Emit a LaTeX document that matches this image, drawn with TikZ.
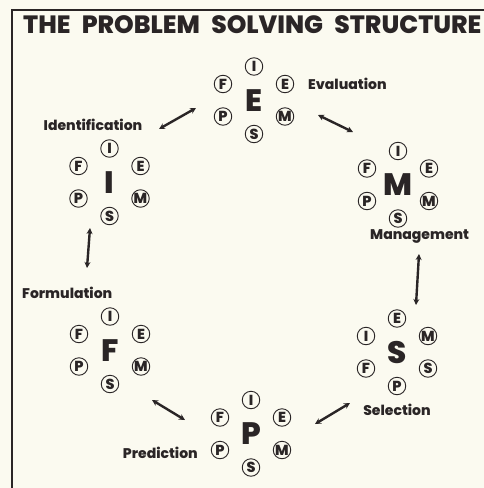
\documentclass[tikz,border=0pt]{standalone}
\usepackage{fontspec}
\IfFontExistsTF{Poppins ExtraBold}
  {\setmainfont{Poppins}[BoldFont={Poppins ExtraBold}]}
  {\setmainfont{Poppins}[BoldFeatures={FakeBold=1.2}]}
\usetikzlibrary{arrows.meta,calc}
\definecolor{paper}{HTML}{FBFAF0}
\definecolor{ink}{HTML}{2A2526}
\newcommand\cluster[9]{%
  \node[big] (#1) at (#2) {#3};
  \node[smallc] (#1-t)  at ($(#1)+(0,-34)$)     {#4};
  \node[smallc] (#1-ul) at ($(#1)+(-31,-16.5)$) {#5};
  \node[smallc] (#1-ur) at ($(#1)+(31,-16.5)$)  {#6};
  \node[smallc] (#1-ll) at ($(#1)+(-31,16)$)    {#7};
  \node[smallc] (#1-lr) at ($(#1)+(31,16)$)     {#8};
  \node[smallc] (#1-b)  at ($(#1)+(0,33.5)$)    {#9};
}
\begin{document}
\begin{tikzpicture}[x=1pt,y=-1pt,
  smallc/.style={circle,draw=ink,line width=0.9pt,minimum size=17.5pt,inner sep=0pt,
    font=\bfseries\fontsize{14.5}{14.5}\selectfont,text=ink},
  big/.style={font=\bfseries\fontsize{31}{31}\selectfont,text=ink,inner sep=0pt},
  lab/.style={font=\bfseries\fontsize{14}{14}\selectfont,text=ink,inner sep=0pt},
  dbl/.style={{Stealth[length=6pt,width=6pt]}-{Stealth[length=6pt,width=6pt]},line width=2.4pt,draw=ink}]
\fill[paper] (0,0) rectangle (484,488);
\useasboundingbox (0,0) rectangle (484,488);
\draw[ink,line width=1.4pt] (12,488) -- (12,10) -- (484,10);
\node[anchor=base west,inner sep=0pt,text=ink,font=\bfseries\fontsize{25}{25}\selectfont] (title) at (23,33)
  {THE\hspace{0.45em}PROBLEM\hspace{0.45em}SOLVING\hspace{0.45em}STRUCTURE};

\cluster{cE}{254,100.5}{E}{I}{F}{E}{P}{M}{S}
\cluster{cI}{109.5,182.5}{I}{I}{F}{E}{P}{M}{S}
\cluster{cM}{398,185}{M}{I}{F}{E}{P}{M}{S}
\cluster{cS}{397,352.5}{S}{E}{I}{M}{F}{S}{P}
\cluster{cF}{110,350.5}{F}{I}{F}{E}{P}{M}{S}
\cluster{cP}{251,434}{P}{I}{F}{E}{P}{M}{S}

\node[lab,anchor=west] (lE) at (308,84) {Evaluation};
\node[lab] (lI) at (93,125) {Identification};
\node[lab,anchor=west] (lM) at (370,236) {Management};
\node[lab,anchor=west] (lF) at (22,293) {Formulation};
\node[lab] (lS) at (397,410) {Selection};
\node[lab,anchor=east] (lP) at (198,453) {Prediction};

\coordinate (ie1) at (159,129); \coordinate (ie2) at (196,108);
\coordinate (em1) at (318,115); \coordinate (em2) at (353,132);
\coordinate (ms1) at (419,254); \coordinate (ms2) at (416,305);
\coordinate (sp1) at (350,403); \coordinate (sp2) at (315,424);
\coordinate (pf1) at (185,420); \coordinate (pf2) at (152,400);
\coordinate (fi1) at (87,268);  \coordinate (fi2) at (90,228);
\draw[dbl] (ie1) -- (ie2);
\draw[dbl] (em1) -- (em2);
\draw[dbl] (ms1) -- (ms2);
\draw[dbl] (sp1) -- (sp2);
\draw[dbl] (pf1) -- (pf2);
\draw[dbl] (fi1) -- (fi2);
\end{tikzpicture}
\end{document}
